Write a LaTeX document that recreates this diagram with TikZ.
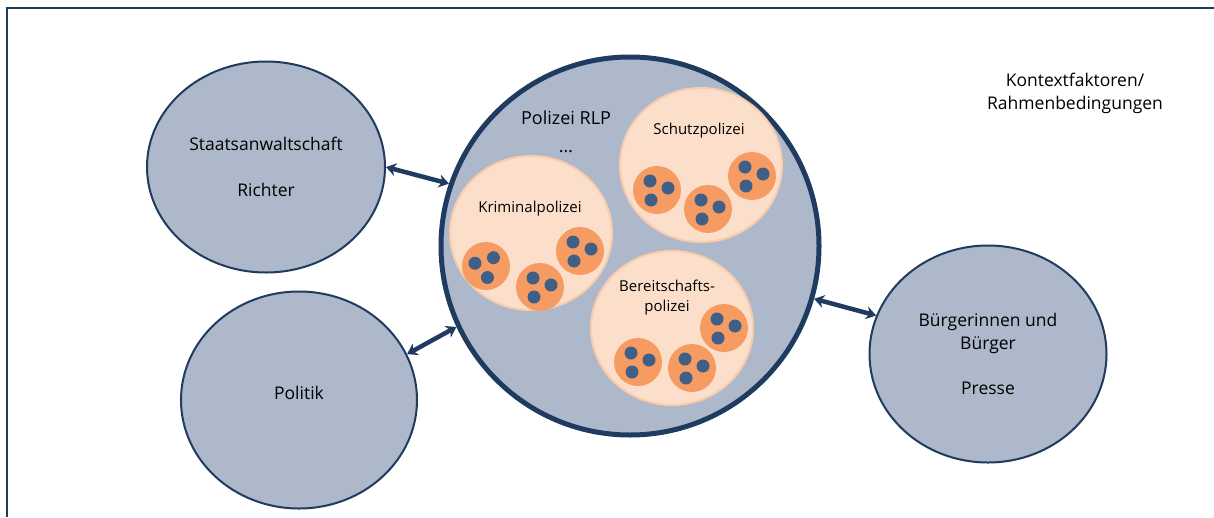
\documentclass[tikz,border=0pt]{standalone}
\usepackage{fontspec}
\setmainfont{Open Sans}
\usetikzlibrary{shapes.geometric,arrows.meta}
\definecolor{navy}{HTML}{1F3B60}
\definecolor{greyblue}{HTML}{ADB9CA}
\definecolor{peach}{HTML}{FCDFCA}
\definecolor{peachline}{HTML}{F9CCAE}
\definecolor{orangefill}{HTML}{F69C63}
\definecolor{dotblue}{HTML}{3F5F87}
\begin{document}
\begin{tikzpicture}
 [x=1pt,y=-1pt,
  every node/.style={font=\fontsize{17.5}{23}\selectfont,align=center,inner sep=0pt},
  actor/.style={ellipse,draw=navy,line width=2pt,fill=greyblue},
  police/.style={circle,draw=navy,line width=5pt,fill=greyblue,minimum size=378pt},
  unit/.style={ellipse,draw=peachline,line width=2pt,fill=peach,minimum width=162pt,minimum height=154pt},
  team/.style={circle,fill=orangefill,minimum size=48pt},
  small/.style={font=\fontsize{15}{20}\selectfont},
  conn/.style={{Stealth[length=10pt,width=13pt]}-{Stealth[length=10pt,width=13pt]},line width=4.5pt,draw=navy}]
  \useasboundingbox (0,0) rectangle (1214,517);
  \draw[navy,line width=2.5pt] (7,517) -- (7,8) -- (1214,8);

  \node[actor,minimum width=238pt,minimum height=211pt] (staats) at (266,167) {Staatsanwaltschaft\\[23pt]Richter};
  \node[actor,minimum width=236pt,minimum height=217pt] (politik) at (299,400) {};
  \node (politiklabel) at (299,393) {Politik};
  \node[actor,minimum width=237pt,minimum height=217pt] (buerger) at (988,354) {Bürgerinnen und\\Bürger\\[22pt]Presse};
  \node (kontext) at (1075,93) {Kontextfaktoren/\\Rahmenbedingungen};

  \node[police] (polizei) at (630,246) {};
  \node[font=\fontsize{18}{28}\selectfont] (rlp) at (566,132) {Polizei RLP\\…};

  \node[unit] (kripo) at (531,233) {};
  \node[unit] (schupo) at (701,165) {};
  \node[unit] (bepo) at (672,328) {};
  \node[small] (kripolabel) at (530,209) {Kriminalpolizei};
  \node[small] (schupolabel) at (699,131) {Schutzpolizei};
  \node[small] (bepolabel) at (667,298) {Bereitschafts-\\polizei};

  \foreach \name/\x/\y/\rot in {k1/486/266/38,k2/540/287/0,k3/580/251/0,
                               s1/657/190/0,s2/708/209/0,s3/752/176/0,
                               b1/724/328/0,b2/638/362/0,b3/692/368/0}{
    \node[team] (\name) at (\x,\y) {};
    \begin{scope}[shift={(\x,\y)},rotate=\rot]
      \foreach \dx/\dy in {-7/-9,11/-2,-6/10}
        \fill[dotblue] (\dx,\dy) circle (6.5pt);
    \end{scope}
  }

  \foreach \from/\to in {staats.0/polizei.161,politik.23/polizei.205,polizei.-16/buerger.161}
    \draw[conn] (\from) -- (\to);
\end{tikzpicture}
\end{document}
